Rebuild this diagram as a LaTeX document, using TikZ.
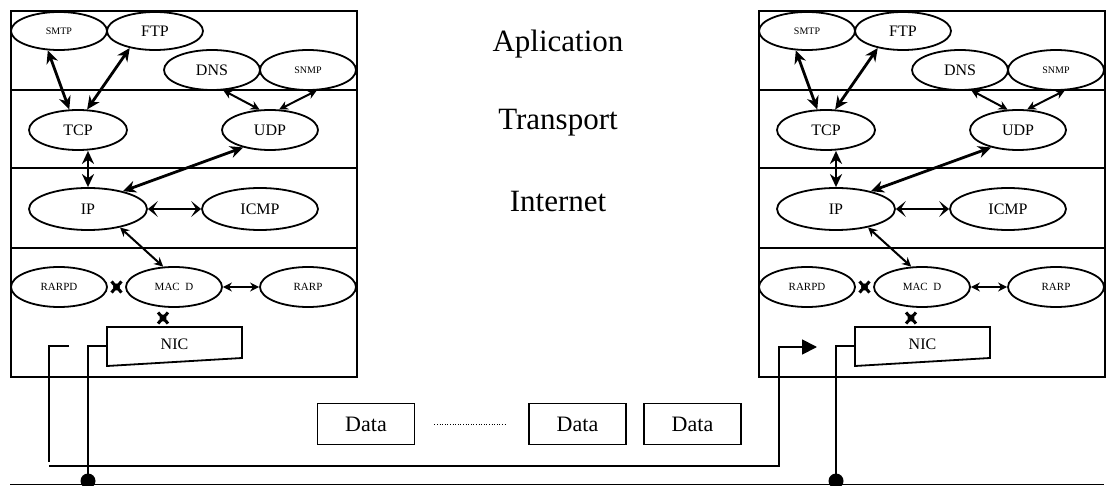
\documentclass[tikz,border=0pt]{standalone}
\usepackage{fontspec}
\setmainfont{Liberation Serif}
\usetikzlibrary{shapes.geometric,arrows.meta,calc}
\tikzset{
 ell/.style={draw, ellipse, line width=1.8pt, inner sep=0pt, minimum width=96pt, minimum height=40pt},
 bigtxt/.style={font=\fontsize{16}{16}\selectfont},
 smalltxt/.style={font=\fontsize{10}{10}\selectfont},
 midtxt/.style={font=\fontsize{11}{11}\selectfont},
 layer/.style={font=\fontsize{31}{31}\selectfont, anchor=base, inner sep=0pt},
 dbox/.style={draw, line width=1.8pt, minimum width=97pt, minimum height=41pt, inner sep=0pt, font=\fontsize{22}{22}\selectfont},
 bigarrow/.style={line width=2.8pt, {Stealth[length=13pt,width=12pt]}-{Stealth[length=13pt,width=12pt]}},
 smallarrow/.style={line width=2pt, {Stealth[length=9pt,width=9pt]}-{Stealth[length=9pt,width=9pt]}},
 barbarrow/.style={line width=2.8pt, {Stealth[length=10pt,width=16pt,inset=5pt]}-{Stealth[length=10pt,width=16pt,inset=5pt]}},
 wire/.style={line width=1.8pt},
 frame/.style={line width=1.8pt},
 xmark/.pic={\draw[line width=3pt] (-5pt,-5.5pt)--(5pt,5.5pt) (-5pt,5.5pt)--(5pt,-5.5pt); \fill (0,0) circle (3.5pt);}
}
\begin{document}
\begin{tikzpicture}[x=1pt,y=-1pt]
\useasboundingbox (0,0) rectangle (1108,486);
\foreach \s/\dx in {l/0,r/748}{
\begin{scope}[xshift=\dx pt]
 \draw[frame] (11,11) rectangle (357,377);
 \draw[frame] (11,90) -- (357,90);
 \draw[frame] (11,168) -- (357,168);
 \draw[frame] (11,248) -- (357,248);
 \node[ell,smalltxt,minimum height=38pt] (\s smtp) at (59,31) {SMTP};
 \node[ell,bigtxt,minimum height=38pt] (\s ftp) at (155,31) {FTP};
 \node[ell,bigtxt] (\s dns) at (212,70) {DNS};
 \node[ell,smalltxt] (\s snmp) at (308,70) {SNMP};
 \node[ell,bigtxt,minimum width=98pt] (\s tcp) at (78,130) {TCP};
 \node[ell,bigtxt] (\s udp) at (270,130) {UDP};
 \node[ell,bigtxt,minimum width=118pt,minimum height=42pt] (\s ip) at (88,209) {IP};
 \node[ell,bigtxt,minimum width=116pt,minimum height=42pt] (\s icmp) at (260,209) {ICMP};
 \node[ell,midtxt] (\s rarpd) at (59,287) {RARPD};
 \node[ell,midtxt] (\s mac) at (174,287) {MAC\ \ D};
 \node[ell,midtxt] (\s rarp) at (308,287) {RARP};
 \draw[frame] (107,327) -- (242,327) -- (242,358) -- (107,366) -- cycle;
 \node[bigtxt] (\s nic) at (174.5,344) {NIC};
 \coordinate (\s nicL) at (107,346);
 \coordinate (\s dot) at (88,481);
 \draw[bigarrow] (\s smtp.240) -- (\s tcp.113);
 \draw[bigarrow] (\s ftp.214) -- (\s tcp.66);
 \draw[smallarrow] (\s dns.299) -- (\s udp.117);
 \draw[smallarrow] (\s snmp.293) -- (\s udp.66);
 \draw[bigarrow] (\s ip.north |- \s tcp.south) -- (\s ip.north);
 \draw[bigarrow] (\s udp.213) -- (\s ip.27);
 \draw[barbarrow] (\s ip.east) -- (\s icmp.west);
 \draw[smallarrow] (\s ip.330) -- (\s mac.118);
 \draw[smallarrow] (\s mac.east) -- (\s rarp.west);
 \path (\s rarpd.east) -- (\s mac.west) coordinate[midway] (\s x1);
 \pic at (\s x1) {xmark};
 \coordinate (\s x2) at (163,318);
 \pic at (\s x2) {xmark};
 \draw[wire] (\s nicL) -| (\s dot);
 \fill (\s dot) circle (7.5pt);
\end{scope}
}
\node[layer] (app) at (558,52) {Aplication};
\node[layer] (trans) at (558,130) {Transport};
\node[layer] (inet) at (558,212) {Internet};
\node[dbox] (d1) at (366,424) {Data};
\node[dbox] (d2) at (577.5,424) {Data};
\node[dbox] (d3) at (692.5,424) {Data};
\draw[line width=1pt, dash pattern=on 1pt off 1.6pt] ([xshift=19pt]d1.east) -- ([xshift=-22pt]d2.west);
\coordinate (lA) at (69,346);
\coordinate (lB) at (49,462);
\draw[wire] (lA) -| (lB);
\coordinate (dStart) at (49,466);
\coordinate (dTurn) at (779,466);
\coordinate (dEnd) at (817,347);
\draw[wire,-{Triangle[length=15pt,width=15pt]}] (dStart) -- (dTurn) |- (dEnd);
\coordinate (b1) at (10,484.5);
\coordinate (b2) at (1104,484.5);
\draw[wire] (b1) -- (b2);
\end{tikzpicture}
\end{document}
